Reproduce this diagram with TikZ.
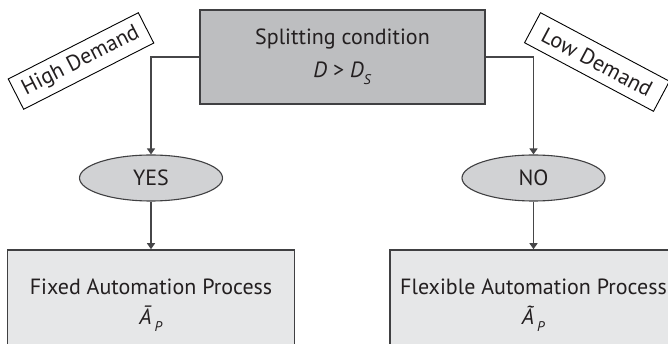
\documentclass[tikz,border=0pt]{standalone}
\usepackage{fontspec}
\setmainfont{PT Sans}
\usetikzlibrary{arrows.meta,shapes.geometric}

\definecolor{inktext}{RGB}{35,31,32}
\definecolor{framegray}{RGB}{64,64,66}
\definecolor{linkgray}{RGB}{70,70,72}
\definecolor{condfill}{RGB}{189,190,192}
\definecolor{answerfill}{RGB}{209,210,212}
\definecolor{processfill}{RGB}{230,231,232}

\newcommand{\subidx}[1]{\raisebox{-7pt}{\fontsize{14}{14}\selectfont\textit{#1}}}

\tikzset{
  basefont/.style={font=\fontsize{22}{26}\selectfont, text=inktext},
  condbox/.style={basefont, draw=framegray, line width=1.6pt, fill=condfill,
    minimum width=285pt, minimum height=94pt, align=center, inner sep=0pt},
  answer/.style={basefont, ellipse, draw=framegray, line width=1.1pt, fill=answerfill,
    minimum width=143pt, minimum height=46pt, inner sep=0pt},
  procbox/.style={basefont, draw=framegray, line width=1.6pt, fill=processfill,
    minimum width=287pt, minimum height=110pt, align=center, inner sep=0pt},
  tagbox/.style={basefont, draw=black, line width=0.9pt, fill=white,
    minimum width=146pt, minimum height=34pt, inner sep=0pt},
  link/.style={draw=linkgray, line width=1.3pt,
    -{Triangle[width=8pt,length=6pt]}},
}

\begin{document}
\begin{tikzpicture}[x=1pt,y=-1pt]
  \useasboundingbox (0,0) rectangle (668,344);
  \clip (0,0) rectangle (668,344);

  % decision
  \node[condbox] (cond) at (342.5,57)
    {Splitting condition\\[7pt]\textit{D} > \textit{D}\subidx{S}};

  % branch answers
  \node[answer] (yes) at (151,178) {YES};
  \node[answer] (no)  at (533.5,178) {NO};

  % resulting processes
  \node[procbox] (fixed) at (151,305)
    {Fixed Automation Process\\[4pt]\textit{Ā}\hspace{3pt}\subidx{P}};
  \node[procbox] (flex) at (533.5,305)
    {Flexible Automation Process\\[4pt]\textit{Ã}\hspace{3pt}\subidx{P}};

  % demand tags
  \node[tagbox, rotate=27] (high) at (81,61) {High Demand};
  \node[tagbox, rotate=-28] (low) at (597,62) {Low Demand};

  % connectors
  \draw[link] (cond.west) -| (yes.north);
  \draw[link] (cond.east) -| (no.north);
  \draw[link] (yes.south) -- (fixed.north);
  \draw[link] (no.south) -- (flex.north);
\end{tikzpicture}
\end{document}
